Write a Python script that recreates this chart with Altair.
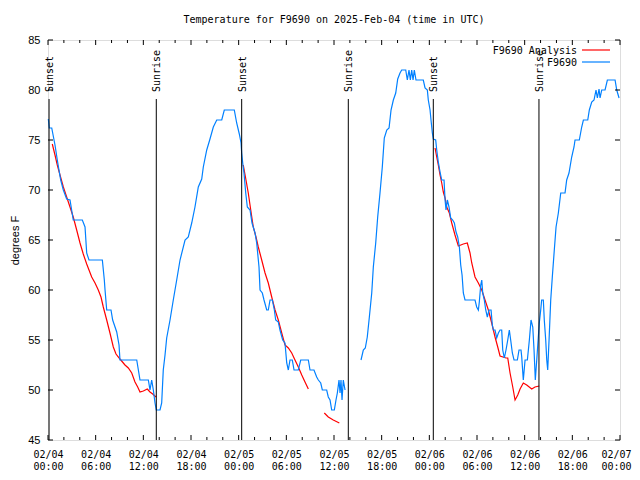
import altair as alt
import pandas as pd

MONO = "DejaVu Sans Mono"
SANS = "Liberation Sans"

title_text = "Temperature for F9690 on 2025-Feb-04 (time in UTC)"
series_names = ["F9690 Analysis", "F9690"]
series_colors = ["#ff0000", "#0080ff"]

# Observed F9690 (hours since 2025-02-04 00:00 UTC, degrees F)
obs1_hour = [0.04, 0.16, 0.47, 0.88, 1.17, 1.38, 1.60, 1.93, 2.35, 2.77, 3.18, 4.32, 4.66, 4.87, 5.16,
             6.84, 7.09, 7.18, 7.39, 7.93, 8.14, 8.65, 8.94, 9.06, 11.17, 11.58, 12.63, 12.84, 13.05,
             13.26, 13.47, 13.63, 14.10, 14.31, 14.51, 14.73, 14.94, 15.36, 15.77, 16.20, 16.62, 17.25,
             17.66, 18.09, 18.50, 18.92, 19.35, 19.55, 19.98, 20.39, 20.81, 21.24, 21.87, 22.19, 23.45,
             23.75, 24.08, 24.30, 24.38, 24.51, 24.67, 24.89, 25.09, 25.43, 25.68, 26.06, 26.27, 26.56,
             26.69, 26.98, 27.19, 27.53, 27.73, 27.95, 28.24, 28.49, 28.66, 28.99, 29.20, 29.54, 29.83,
             30.05, 30.25, 30.46, 30.75, 30.97, 31.51, 31.81, 32.77, 32.98, 33.48, 33.82, 34.03, 34.33,
             34.53, 35.08, 35.28, 35.50, 35.71, 36.04, 36.25, 36.42, 36.63, 36.76, 36.88, 37.01, 37.17,
             37.39]
obs1_temp = [77.1, 76.2, 76.2, 74.5, 73.0, 72.0, 71.0, 70.0, 69.1, 69.0, 67.0, 67.0, 66.3, 63.7, 63.0,
             63.0, 61.0, 60.0, 58.0, 58.0, 57.0, 55.8, 54.5, 53.0, 53.0, 51.0, 51.0, 50.0, 51.0,
             50.0, 48.7, 48.0, 48.0, 48.7, 52.0, 53.5, 55.2, 57.0, 59.0, 61.0, 63.0, 65.0,
             65.3, 66.7, 68.3, 70.3, 71.1, 72.3, 74.0, 75.1, 76.3, 77.0, 77.0, 78.0, 78.0,
             76.7, 75.6, 74.7, 73.7, 72.7, 71.7, 69.7, 68.3, 68.0, 66.7, 65.7, 64.7, 62.3,
             60.0, 59.7, 59.0, 58.0, 58.0, 59.0, 59.0, 58.0, 57.0, 56.8, 56.0, 55.0, 54.7,
             52.7, 52.0, 53.0, 53.0, 52.0, 52.0, 53.0, 53.0, 52.0, 52.0, 51.3, 51.0, 50.7,
             50.0, 50.0, 49.3, 49.0, 48.0, 48.0, 49.0, 49.7, 51.0, 49.7, 51.0, 49.0, 51.0,
             50.0]
obs2_hour = [39.40, 39.69, 39.94, 40.19, 40.45, 40.75, 40.95, 41.25, 41.50, 41.79, 42.08, 42.33, 42.64,
             42.93, 43.18, 43.47, 43.77, 44.02, 44.31, 44.52, 45.03, 45.23, 45.44, 45.61, 45.78, 45.95,
             46.11, 46.32, 47.24, 47.46, 47.75, 47.87, 48.09, 48.21, 48.38, 48.50, 48.80, 48.93, 49.13,
             49.35, 49.56, 49.85, 49.98, 50.10, 50.27, 50.48, 50.69, 50.94, 51.15, 51.36, 51.57, 51.78,
             51.95, 52.12, 52.28, 52.49, 53.75, 53.96, 54.17, 54.29, 54.47, 54.60, 54.72, 54.92, 55.10,
             55.30, 55.51, 55.77, 55.93, 56.06, 56.27, 56.48, 56.69, 56.90, 57.11, 57.24, 57.44, 57.65,
             57.87, 58.07, 58.24, 58.45, 58.66, 59.08, 59.29, 59.54, 59.63, 59.83, 60.05, 60.34, 60.59,
             60.80, 61.02, 61.18, 61.34, 61.52, 61.72, 61.84, 62.02, 62.14, 62.35, 62.47, 62.65, 62.78,
             62.90, 63.07, 63.28, 63.48, 63.73, 63.95, 64.24, 64.54, 65.08, 65.29, 65.58, 65.92, 66.21,
             66.34, 66.88, 67.18, 67.39, 67.94, 68.14, 68.44, 68.73, 68.98, 69.15, 69.36, 69.49, 69.70,
             70.12, 70.41, 71.38, 71.59, 71.88]
obs2_temp = [53.0, 54.0, 54.2, 55.3, 57.3, 59.7, 62.3, 64.7, 67.3, 69.7, 72.3, 75.2, 76.0,
             76.2, 78.0, 79.0, 79.7, 81.1, 81.7, 82.0, 82.0, 81.0, 82.0, 81.0, 82.0, 81.0,
             82.0, 81.0, 81.0, 80.2, 80.0, 79.0, 78.0, 77.0, 75.7, 75.1, 75.0, 74.0, 72.8,
             71.8, 71.0, 71.0, 69.0, 68.0, 69.0, 68.3, 67.2, 67.0, 66.7, 65.8, 65.3, 64.3,
             62.5, 61.5, 59.7, 59.0, 59.0, 58.3, 58.0, 58.8, 60.5, 61.0, 59.7, 59.0, 58.0,
             57.3, 58.0, 58.0, 56.5, 56.0, 56.0, 55.2, 55.7, 56.0, 56.0, 54.0, 53.2, 54.0,
             55.0, 56.0, 55.0, 53.7, 53.0, 53.0, 54.0, 54.0, 53.3, 51.0, 53.0, 53.0, 55.0,
             57.0, 56.3, 54.0, 51.0, 53.0, 55.3, 56.7, 58.0, 59.0, 59.0, 57.0, 55.0, 53.0,
             52.0, 55.0, 59.0, 61.3, 64.0, 66.3, 67.7, 69.7, 69.7, 71.0, 71.7, 73.3, 74.3,
             75.0, 75.0, 76.3, 77.0, 77.0, 78.0, 78.8, 79.0, 80.0, 79.2, 80.1, 79.2, 80.0,
             80.0, 81.0, 81.0, 80.0, 79.2]

# F9690 Analysis
ana1_hour = [0.54, 0.88, 1.17, 1.51, 1.93, 2.35, 2.77, 3.18, 3.61, 4.03, 4.44, 4.87, 5.50, 5.92, 6.33,
             6.67, 6.96, 7.39, 7.80, 8.22, 8.56, 9.06, 9.69, 10.11, 10.54, 10.95, 11.29, 11.58, 12.00,
             12.50, 12.84, 13.18, 13.60]
ana1_temp = [74.6, 73.5, 72.5, 71.5, 70.3, 69.3, 68.3, 67.3, 66.0, 64.7, 63.6, 62.6, 61.3, 60.7, 60.0,
             59.3, 58.3, 57.0, 55.7, 54.3, 53.6, 53.1, 52.5, 52.2, 51.7, 50.8, 50.3, 49.8, 49.9,
             50.1, 49.8, 49.6, 49.3]
ana2_hour = [24.58, 24.92, 25.21, 25.52, 25.84, 26.18, 26.47, 26.90, 27.32, 27.73, 28.16, 28.58, 28.99,
             29.42, 29.83, 30.25, 30.68, 31.09, 31.51, 31.94, 32.35, 32.77]
ana2_temp = [72.5, 71.0, 69.7, 68.0, 66.3, 65.3, 64.3, 63.0, 61.7, 60.7, 59.3, 58.0, 57.0,
             55.7, 54.5, 54.2, 53.7, 53.0, 52.3, 51.5, 50.8, 50.1]
ana3_hour = [34.78, 35.28, 35.91, 36.67]
ana3_temp = [47.7, 47.3, 47.0, 46.7]
ana4_hour = [48.72, 48.93, 49.13, 49.35, 49.56, 49.76, 49.98, 50.19, 50.52, 50.82, 51.23, 51.65, 52.28,
             52.78, 53.12, 53.34, 53.75, 54.17, 54.60, 55.01, 55.43, 55.85, 56.27, 56.61, 56.90, 57.65,
             57.87, 58.16, 58.50, 58.79, 59.13, 59.42, 59.83, 60.26, 60.89, 61.30, 61.84]
ana4_temp = [74.2, 73.3, 72.5, 71.5, 70.7, 69.8, 69.2, 68.3, 67.7, 66.7, 65.5, 64.4, 64.6,
             64.7, 63.7, 62.7, 61.3, 60.7, 60.0, 59.0, 58.0, 56.7, 55.3, 54.3, 53.4, 53.2,
             53.2, 51.7, 50.3, 49.0, 49.5, 50.1, 50.7, 50.5, 50.1, 50.3, 50.4]

sun_hour = [0.13, 13.63, 24.38, 37.80, 48.50, 61.80]
sun_label = ["Sunset", "Sunrise", "Sunset", "Sunrise", "Sunset", "Sunrise"]

x_label_hours = list(range(0, 73, 6))
x_minor_hours = [h for h in range(0, 73, 2) if h % 6]
y_tick_values = list(range(45, 86, 5))


def seg(hours, temps, name, sid):
    return pd.DataFrame({"hour": hours, "temp": temps, "series": name, "seg": sid})


obs_df = pd.concat([seg(obs1_hour, obs1_temp, "F9690", "o1"),
                    seg(obs2_hour, obs2_temp, "F9690", "o2")])
ana_df = pd.concat([seg(ana1_hour, ana1_temp, "F9690 Analysis", "a1"),
                    seg(ana2_hour, ana2_temp, "F9690 Analysis", "a2"),
                    seg(ana3_hour, ana3_temp, "F9690 Analysis", "a3"),
                    seg(ana4_hour, ana4_temp, "F9690 Analysis", "a4")])
sun_df = pd.DataFrame({"hour": sun_hour, "label": sun_label})
major_df = pd.DataFrame({"hour": x_label_hours})
minor_df = pd.DataFrame({"hour": x_minor_hours})
ytick_df = pd.DataFrame({"temp": y_tick_values})

W, H = 572, 400

xscale = alt.Scale(domain=[0, 72], nice=False, zero=False)
yscale = alt.Scale(domain=[45, 85], nice=False, zero=False)
cscale = alt.Scale(domain=series_names, range=series_colors)

label_expr = ("['02/0' + (4 + floor(datum.value / 24)), "
              "(datum.value % 24 < 10 ? '0' : '') + (datum.value % 24) + ':00']")

xaxis = alt.Axis(values=x_label_hours, labelExpr=label_expr, ticks=False, tickSize=0, domain=False,
                 grid=False, title=None, labelFont=MONO, labelFontSize=10, labelColor="black",
                 labelPadding=9, labelLineHeight=12, labelFlush=False, labelOverlap=False,
                 labelBound=False, labelBaseline="top",
                 labelOffset={"condition": {"test": "datum.value == 72", "value": -4}, "value": 0})
yaxis = alt.Axis(values=y_tick_values, ticks=False, tickSize=0, domain=False, grid=False,
                 title="degrees F", titleFont=SANS, titleFontSize=11, titleFontWeight="normal",
                 titleColor="black", titleX=-33, titleY=200, titleAngle=270, titleBaseline="middle",
                 titleAlign="center", labelFont=SANS, labelFontSize=11, labelColor="black",
                 labelPadding=8, labelFlush=False, labelOverlap=False)

ana_line = alt.Chart(ana_df).mark_line(strokeWidth=1.2).encode(
    x=alt.X("hour:Q", scale=xscale, axis=xaxis),
    y=alt.Y("temp:Q", scale=yscale, axis=yaxis),
    color=alt.Color("series:N", scale=cscale, legend=None),
    detail="seg:N",
    order="hour:Q",
)
obs_line = alt.Chart(obs_df).mark_line(strokeWidth=1.2).encode(
    x=alt.X("hour:Q", scale=xscale),
    y=alt.Y("temp:Q", scale=yscale),
    color=alt.Color("series:N", scale=cscale, legend=None),
    detail="seg:N",
    order="hour:Q",
)

sun_rules = alt.Chart(sun_df).mark_rule(color="black", strokeWidth=1).encode(
    x=alt.X("hour:Q", scale=xscale), y=alt.value(59), y2=alt.value(H))
sun_text = alt.Chart(sun_df).mark_text(angle=270, align="left", baseline="middle", font=MONO,
                                       fontSize=10, color="black", dy=1).encode(
    x=alt.X("hour:Q", scale=xscale), y=alt.value(52), text="label:N")

bot_major = alt.Chart(major_df).mark_rule(color="black").encode(
    x=alt.X("hour:Q", scale=xscale), y=alt.value(H), y2=alt.value(H - 5))
top_major = alt.Chart(major_df).mark_rule(color="black").encode(
    x=alt.X("hour:Q", scale=xscale), y=alt.value(0), y2=alt.value(5))
bot_minor = alt.Chart(minor_df).mark_rule(color="black").encode(
    x=alt.X("hour:Q", scale=xscale), y=alt.value(H), y2=alt.value(H - 3))
top_minor = alt.Chart(minor_df).mark_rule(color="black").encode(
    x=alt.X("hour:Q", scale=xscale), y=alt.value(0), y2=alt.value(3))
left_ticks = alt.Chart(ytick_df).mark_rule(color="black").encode(
    y=alt.Y("temp:Q", scale=yscale), x=alt.value(0), x2=alt.value(5))
right_ticks = alt.Chart(ytick_df).mark_rule(color="black").encode(
    y=alt.Y("temp:Q", scale=yscale), x=alt.value(W), x2=alt.value(W - 5))

legend_layers = []
for i, (name, col) in enumerate(zip(series_names, series_colors)):
    one = pd.DataFrame({"label": [name]})
    ypix = 11 + 12 * i
    legend_layers.append(alt.Chart(one).mark_text(align="right", baseline="middle", font=MONO,
                                                  fontSize=10, color="black").encode(
        x=alt.value(529), y=alt.value(ypix), text="label:N"))
    legend_layers.append(alt.Chart(one).mark_rule(color=col, strokeWidth=1.2).encode(
        x=alt.value(534), x2=alt.value(562), y=alt.value(ypix - 1)))

chart = alt.layer(
    ana_line, obs_line, sun_rules, sun_text, bot_major, top_major, bot_minor, top_minor,
    left_ticks, right_ticks, *legend_layers
).properties(
    width=W, height=H,
    title=alt.Title(title_text, font=MONO, fontSize=10, fontWeight="normal", color="black",
                    anchor="middle", offset=9),
    autosize=alt.AutoSizeParams(type="none"),
    padding={"left": 40, "top": 32, "right": 12, "bottom": 30},
).configure_view(stroke="black", strokeWidth=1).configure(background="white")

chart.save("out.html", embed_options={"renderer": "svg", "actions": False})
